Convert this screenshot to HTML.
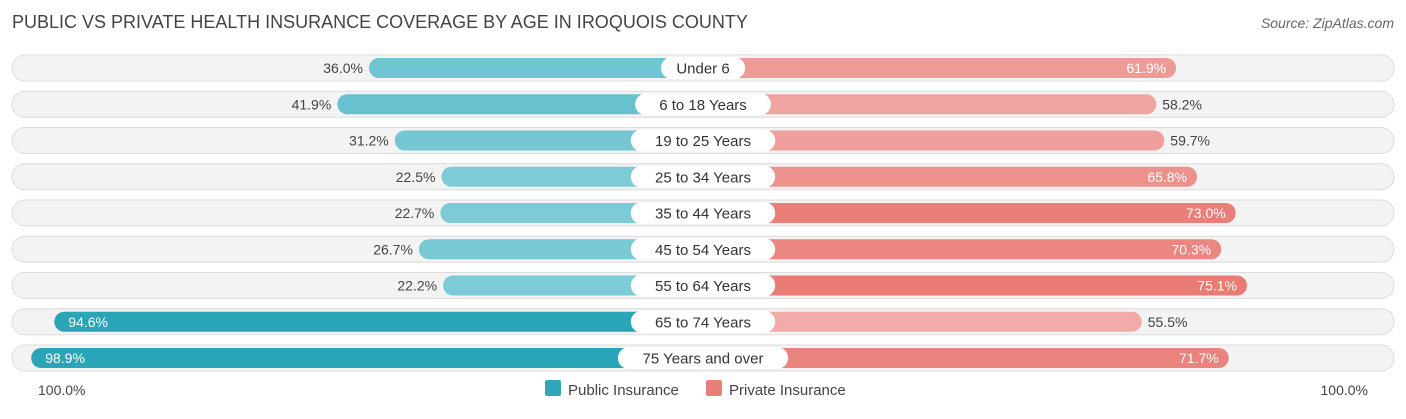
<!DOCTYPE html>
<html><head><meta charset="utf-8"><style>
body{margin:0;background:#fff;font-family:"Liberation Sans",sans-serif;}
svg text{font-family:"Liberation Sans",sans-serif;}
</style></head><body>
<svg id="chart" width="1406" height="414" xmlns="http://www.w3.org/2000/svg">
<text x="12" y="28" font-size="18" fill="#444">PUBLIC VS PRIVATE HEALTH INSURANCE COVERAGE BY AGE IN IROQUOIS COUNTY</text>
<text x="1394" y="28" font-size="14" fill="#666" font-style="italic" text-anchor="end">Source: ZipAtlas.com</text>
<g id="rows"></g>
<text x="38" y="395" font-size="14" fill="#444">100.0%</text>
<text x="1368" y="395" font-size="14" fill="#444" text-anchor="end">100.0%</text>
<g>
<rect x="545" y="380" width="16" height="16" rx="2" fill="#2fa7b9"/>
<text x="568" y="395" font-size="15" fill="#444">Public Insurance</text>
<rect x="706" y="380" width="16" height="16" rx="2" fill="#e97f79"/>
<text x="729" y="395" font-size="15" fill="#444">Private Insurance</text>
</g>
</svg>
<script>
const categories=["Under 6","6 to 18 Years","19 to 25 Years","25 to 34 Years","35 to 44 Years","45 to 54 Years","55 to 64 Years","65 to 74 Years","75 Years and over"];
const publicValues=[36.0,41.9,31.2,22.5,22.7,26.7,22.2,94.6,98.9];
const privateValues=[61.9,58.2,59.7,65.8,73.0,70.3,75.1,55.5,71.7];
const NS="http://www.w3.org/2000/svg";
const cx=703, base=140.7, k=5.37;
function w(v){return base+k*v;}
function rowY(i){return 68+i*36.25;}
function mix(a,b,t){return "rgb("+a.map((x,j)=>Math.round(x+(b[j]-x)*t)).join(",")+")";}
function pubColor(v){return mix([128,204,215],[42,165,183],Math.max(0,Math.min(1,(v-20)/75)));}
function privColor(v){return mix([241,172,170],[233,122,116],Math.max(0,Math.min(1,(v-55)/20)));}
function el(tag,attrs,parent){const e=document.createElementNS(NS,tag);for(const a in attrs)e.setAttribute(a,attrs[a]);parent.appendChild(e);return e;}
const g=document.getElementById('rows');
categories.forEach((c,i)=>{
  const y=rowY(i);
  const track=el('rect',{x:12,y:y-13,width:1382,height:26,rx:13,fill:'#f3f3f3',stroke:'#dcdcdc','stroke-width':1},g);
  
  
  const pv=publicValues[i], qv=privateValues[i];
  const pw=w(pv), qw=w(qv);
  const pb=el('rect',{x:cx-pw,y:y-10,width:pw,height:20,rx:10,fill:pubColor(pv)},g);
  
  
  const qb=el('rect',{x:cx,y:y-10,width:qw,height:20,rx:10,fill:privColor(qv)},g);
  
  
  const pin=pv>80;
  const pt=el('text',{x:pin?cx-pw+14:cx-pw-6,y:y+5,'font-size':14,fill:pin?'#fff':'#444','text-anchor':pin?'start':'end'},g);
  pt.textContent=pv.toFixed(1)+'%';
  
  
  const qin=qv>60;
  const qt=el('text',{x:qin?cx+qw-10:cx+qw+6,y:y+5,'font-size':14,fill:qin?'#fff':'#444','text-anchor':qin?'end':'start'},g);
  qt.textContent=qv.toFixed(1)+'%';
  
  
  const lw=c.length*8.6+24;
  const pill=el('rect',{x:cx-lw/2,y:y-11,width:lw,height:22,rx:11,fill:'#fff'},g);
  
  
  const lt=el('text',{x:cx,y:y+5.5,'font-size':15,fill:'#333','text-anchor':'middle'},g);
  lt.textContent=c;
  
  
});
</script>
</body></html>
